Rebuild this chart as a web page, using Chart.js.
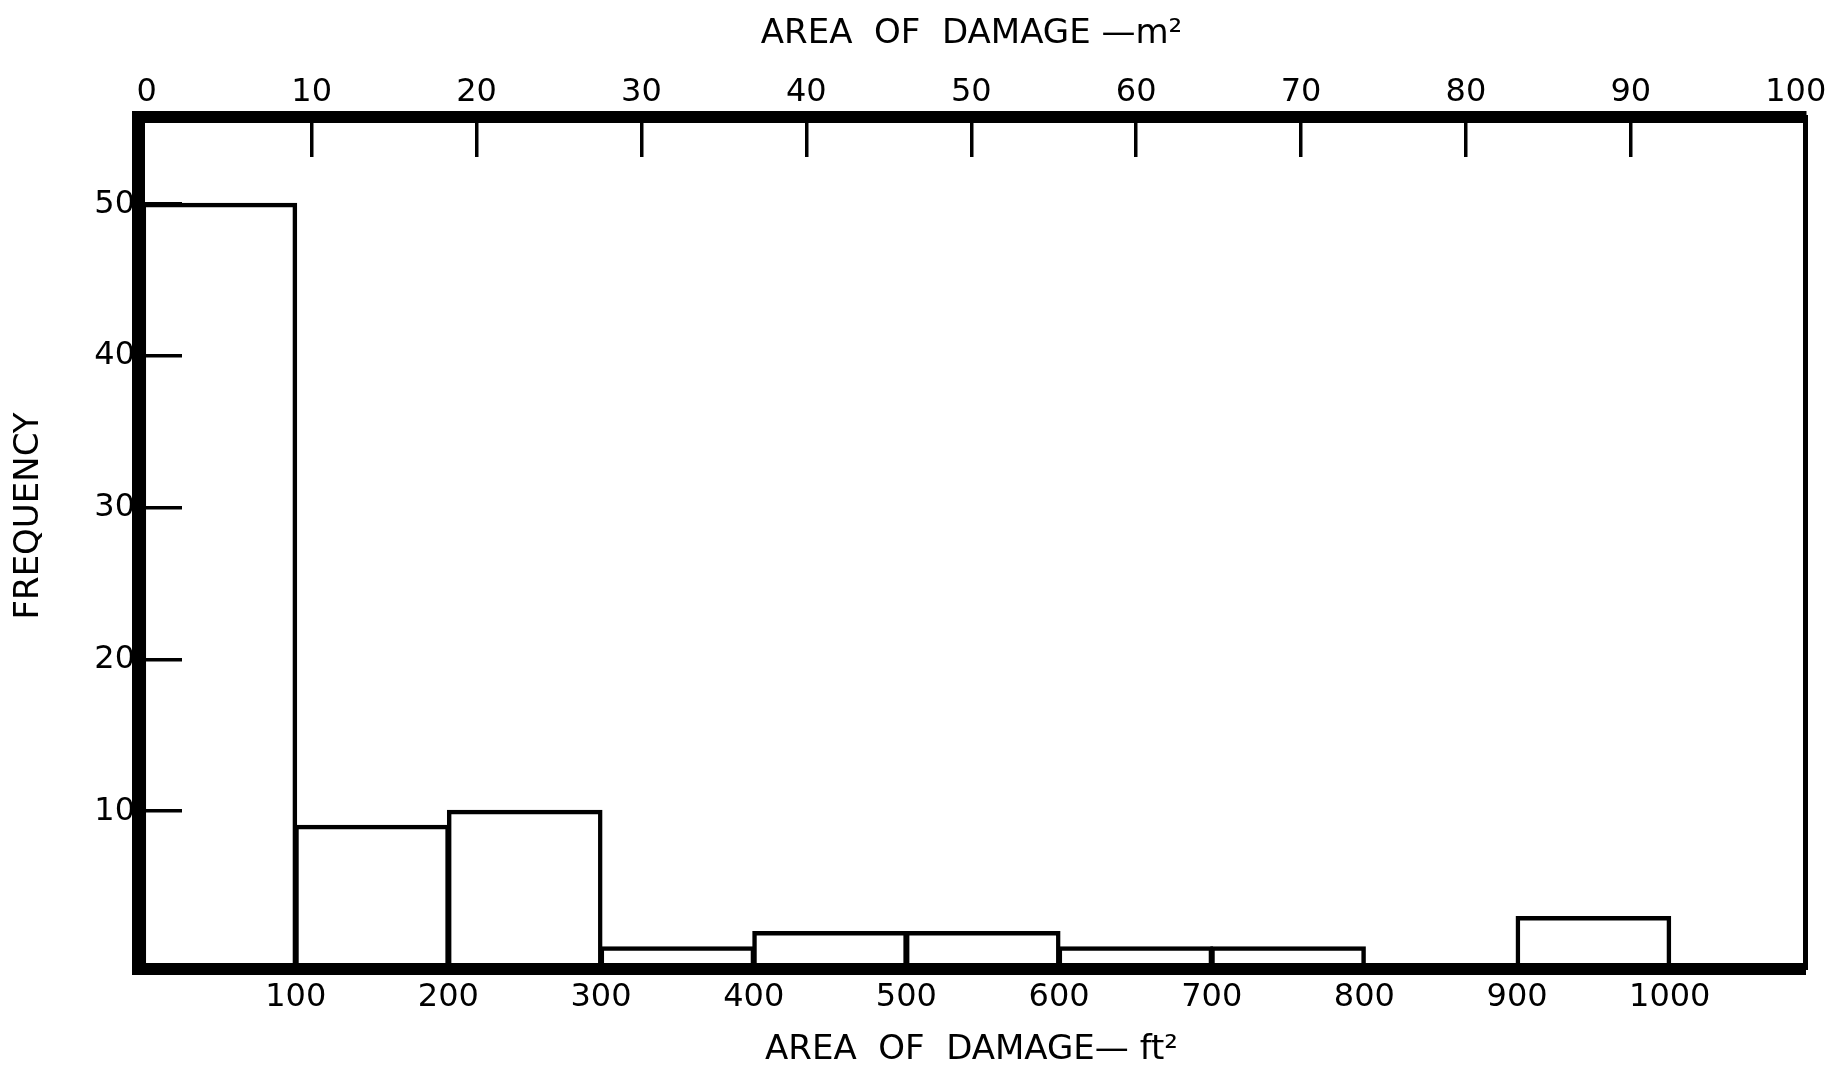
<!DOCTYPE html>
<html>
<head>
<meta charset="utf-8">
<title>Area of damage</title>
<script src="https://cdn.jsdelivr.net/npm/chart.js@4.4.1/dist/chart.umd.min.js"></script>
<style>
  html, body { margin: 0; padding: 0; background: #fff; }
</style>
</head>
<body>
<canvas id="chart" width="1844" height="1075"></canvas>
<script>
// Histogram bins (ft²), 100 ft² wide
const binStarts = [0, 100, 200, 300, 400, 500, 600, 700, 800, 900];
const binWidth = 100;
const frequency = [50, 9, 10, 1, 2, 2, 1, 1, 0, 3];

// Tick labels
const ftTicks = [100, 200, 300, 400, 500, 600, 700, 800, 900, 1000];
const m2Ticks = [0, 10, 20, 30, 40, 50, 60, 70, 80, 90, 100];
const freqTicks = [10, 20, 30, 40, 50];

const ink = '#000';
const tickFont = { family: "'DejaVu Sans', sans-serif", size: 32 };
const titleFont = { family: "'DejaVu Sans', sans-serif", size: 34 };

const setTicks = list => axis => { axis.ticks = list.map(v => ({ value: v })); };
const plain = v => String(v);
// fixed box size, and no extra room for overhanging edge labels
const fixBox = (w, h) => s => {
  if (w !== null) s.width = w;
  if (h !== null) s.height = h;
  s.paddingLeft = s.paddingRight = s.paddingTop = s.paddingBottom = 0;
};

new Chart(document.getElementById('chart'), {
  type: 'bar',
  data: {
    datasets: [{
      data: binStarts.map((s, i) => ({ x: s + binWidth / 2, y: frequency[i] })),
      xAxisID: 'x',
      yAxisID: 'y',
      backgroundColor: 'rgba(0,0,0,0)',
      borderColor: ink,
      borderWidth: 1.5,
      inflateAmount: 1.5,
      borderSkipped: 'bottom',
      barPercentage: 1,
      categoryPercentage: 1
    }]
  },
  options: {
    responsive: false,
    animation: false,
    layout: { padding: { left: 0, right: 39, top: 0, bottom: 0 } },
    plugins: { legend: { display: false }, tooltip: { enabled: false } },
    scales: {
      x: {
        type: 'linear',
        position: 'bottom',
        min: -3.3,
        max: 1088.6,
        offset: false,
        afterBuildTicks: setTicks(ftTicks),
        grid: { offset: false, drawOnChartArea: false, drawTicks: false },
        border: { color: ink, width: 12 },
        ticks: { color: ink, font: tickFont, padding: 9, maxRotation: 0, autoSkip: false, callback: plain },
        title: { display: true, text: 'AREA  OF  DAMAGE— ft²', color: ink, font: titleFont, padding: { top: 0, bottom: 4 } },
        afterFit: fixBox(null, 106)
      },
      x2: {
        type: 'linear',
        position: 'top',
        min: -0.53,
        max: 100.56,
        offset: false,
        afterBuildTicks: setTicks(m2Ticks),
        grid: {
          offset: false,
          drawOnChartArea: false,
          drawTicks: true,
          tickLength: -40,
          lineWidth: 3.5,
          tickColor: c => (c.tick && (c.tick.value === 0 || c.tick.value === 100)) ? 'rgba(0,0,0,0)' : ink
        },
        border: { color: ink, width: 12 },
        ticks: { color: ink, font: tickFont, padding: 45, maxRotation: 0, autoSkip: false, callback: plain },
        title: { display: true, text: 'AREA  OF  DAMAGE —m²', color: ink, font: titleFont, padding: { top: 14, bottom: 0 } },
        afterFit: fixBox(null, 117)
      },
      y: {
        type: 'linear',
        position: 'left',
        min: -0.4,
        max: 55.75,
        afterBuildTicks: setTicks(freqTicks),
        grid: { offset: false, drawOnChartArea: false, drawTicks: true, tickLength: -44, lineWidth: 3.5, tickColor: ink },
        border: { color: ink, width: 13 },
        ticks: { color: ink, font: tickFont, padding: 47, callback: plain },
        title: { display: true, text: '     FREQUENCY', color: ink, font: titleFont, padding: { top: 9, bottom: 0 } },
        afterFit: fixBox(138, null)
      },
      y2: {
        type: 'linear',
        position: 'right',
        grid: { drawOnChartArea: false, drawTicks: false },
        border: { color: ink, width: 5 },
        ticks: { display: false },
        afterFit: fixBox(0, null)
      }
    }
  }
});
</script>
</body>
</html>
